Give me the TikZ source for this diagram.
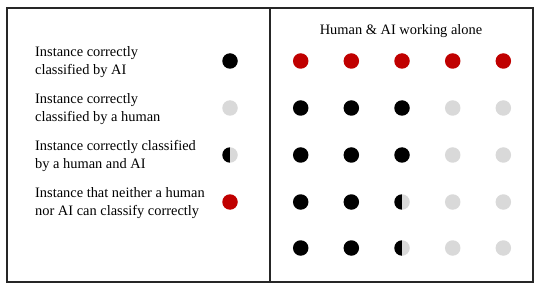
\documentclass[tikz,border=0pt]{standalone}
\usepackage{fontspec}
\setmainfont{Liberation Serif}
\definecolor{aired}{HTML}{C00000}
\definecolor{hgray}{HTML}{D9D9D9}
\begin{document}
\begin{tikzpicture}[x=1pt,y=-1pt,
  dotbase/.style={circle, minimum size=15.5pt, inner sep=0pt, outer sep=0pt},
  ai/.style={dotbase, fill=black},
  hu/.style={dotbase, fill=hgray},
  no/.style={dotbase, fill=aired},
  both/.style={dotbase, path picture={
     \fill[hgray] (path picture bounding box.north) rectangle (path picture bounding box.south east);
     \fill[black] (path picture bounding box.north west) rectangle (path picture bounding box.south);}},
  legtext/.style={anchor=west, align=left, font=\fontsize{14.4}{17.5}\selectfont, inner sep=0pt},
  frame/.style={draw=black!85, line width=1.1pt}]
\useasboundingbox (0,0) rectangle (540,291);
\draw[frame] (7,8) rectangle (533,282);
\draw[frame] (270,8) -- (270,282);
% legend
\node[legtext] (t1) at (35,62) {Instance correctly\\classified by AI};
\node[legtext] (t2) at (35,109) {Instance correctly\\classified by a human};
\node[legtext] (t3) at (35,156) {Instance correctly classified\\by a human and AI};
\node[legtext] (t4) at (35,203) {Instance that neither a human\\nor AI can classify correctly};
\node[ai] (l1) at (230,61) {};
\node[hu] (l2) at (230,108) {};
\node[both] (l3) at (230,155) {};
\node[no] (l4) at (230,202) {};
% title
\node[font=\fontsize{14.4}{17.5}\selectfont, inner sep=0pt] (title) at (401,31) {Human \& AI working alone};
% grid
\foreach \c/\x in {1/300.7,2/351.3,3/402,4/452.7,5/503.3}{
  \node[no] (r1c\c) at (\x,61) {};
}
\foreach \r/\y in {2/108,3/155}{
  \foreach \c/\x in {1/300.7,2/351.3,3/402}{\node[ai] (r\r c\c) at (\x,\y) {};}
  \foreach \c/\x in {4/452.7,5/503.3}{\node[hu] (r\r c\c) at (\x,\y) {};}
}
\foreach \r/\y in {4/202,5/248}{
  \foreach \c/\x in {1/300.7,2/351.3}{\node[ai] (r\r c\c) at (\x,\y) {};}
  \node[both] (r\r c3) at (402,\y) {};
  \foreach \c/\x in {4/452.7,5/503.3}{\node[hu] (r\r c\c) at (\x,\y) {};}
}
\end{tikzpicture}
\end{document}
